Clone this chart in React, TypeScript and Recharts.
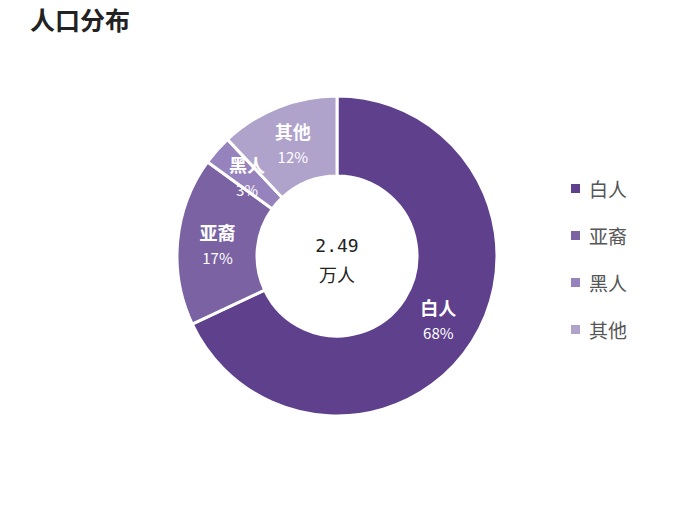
import { PieChart, Pie, Cell, Legend } from "recharts";

const groups = ["白人", "亚裔", "黑人", "其他"];
const shares = [68, 17, 3, 12];
const totalLabel = "2.49";
const totalUnit = "万人";
const COLORS = ["#5e408d", "#7a62a3", "#9682bc", "#afa2cb"];

const data = groups.map((name, i) => ({ name, value: shares[i] }));

const RAD = Math.PI / 180;
const FONT = "'Noto Sans CJK SC', 'Noto Sans', sans-serif";

function SliceLabel(props: any) {
  const { cx, cy, midAngle, innerRadius, outerRadius, name, percent } = props;
  const r = (innerRadius + outerRadius) / 2;
  const x = cx + r * Math.cos(-midAngle * RAD);
  const y = cy + r * Math.sin(-midAngle * RAD);
  return (
    <text x={x} y={y} fill="#fff" textAnchor="middle" fontFamily={FONT}>
      <tspan x={x} dy={-5} fontSize={18} fontWeight={700}>
        {name}
      </tspan>
      <tspan x={x} dy={24} fontSize={15}>
        {Math.round(percent * 100)}%
      </tspan>
    </text>
  );
}

function LegendList() {
  return (
    <div style={{ fontFamily: FONT }}>
      {groups.map((g, i) => (
        <div key={g} style={{ display: "flex", alignItems: "center", height: 47 }}>
          <span style={{ width: 9, height: 9, background: COLORS[i], display: "inline-block", marginRight: 9 }} />
          <span style={{ fontSize: 19, color: "#555" }}>{g}</span>
        </div>
      ))}
    </div>
  );
}

export default function App() {
  return (
    <div style={{ position: "relative", width: 674, height: 512, background: "#fff" }}>
      <style>{"body{margin:0}"}</style>
      <div
        style={{
          position: "absolute",
          left: 30,
          top: 1,
          fontFamily: FONT,
          fontWeight: 700,
          fontSize: 25,
          color: "#222",
        }}
      >
        人口分布
      </div>
      <PieChart width={674} height={512} margin={{ top: 0, right: 0, bottom: 0, left: 0 }}>
        <Pie
          data={data}
          dataKey="value"
          nameKey="name"
          cx={337}
          cy={256}
          innerRadius={80}
          outerRadius={160}
          startAngle={90}
          endAngle={-270}
          stroke="#fff"
          strokeWidth={3}
          label={SliceLabel}
          labelLine={false}
          isAnimationActive={false}
        >
          {data.map((d, i) => (
            <Cell key={d.name} fill={COLORS[i]} />
          ))}
        </Pie>
        <Legend
          layout="vertical"
          content={() => <LegendList />}
          wrapperStyle={{ position: "absolute", left: 571, top: 165, width: 100 }}
        />
      </PieChart>
      <div
        style={{
          position: "absolute",
          left: 287,
          top: 232,
          width: 100,
          textAlign: "center",
          color: "#222",
          lineHeight: "28px",
        }}
      >
        <div style={{ fontFamily: "'DejaVu Sans Mono', monospace", fontSize: 18 }}>{totalLabel}</div>
        <div style={{ fontFamily: FONT, fontSize: 18 }}>{totalUnit}</div>
      </div>
    </div>
  );
}
